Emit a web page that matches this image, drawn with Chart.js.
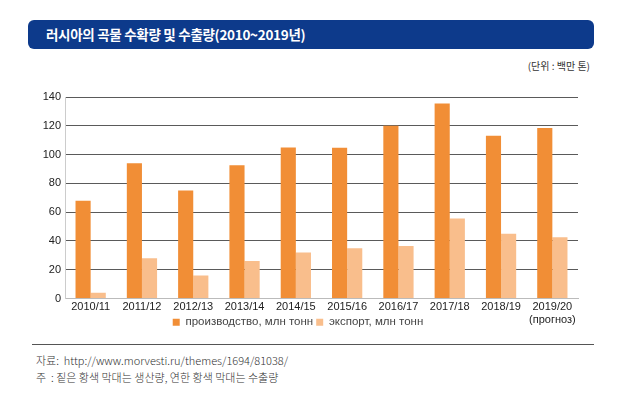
<!DOCTYPE html>
<html>
<head>
<meta charset="utf-8">
<script src="https://cdn.jsdelivr.net/npm/chart.js@4"></script>
<style>
  html, body { margin:0; padding:0; background:#fff; width:633px; height:405px; overflow:hidden; }
  #title { position:absolute; left:28px; top:20px; width:566px; height:29px; background:#0d3a8b; border-radius:6px;
           color:#fff; font-family:"Noto Sans CJK KR", sans-serif; font-weight:bold; font-size:13.5px; line-height:29px;
           box-sizing:border-box; padding-left:18px; letter-spacing:-0.3px; }
  #unit { position:absolute; right:43px; top:58px; font-family:"Noto Sans CJK KR", sans-serif; font-size:10px; color:#333; }
  #wrap { position:absolute; left:0; top:85px; width:596px; height:253px; }
  #rule { position:absolute; left:32px; top:344px; width:562px; height:1px; background:#555; }
  .note { position:absolute; left:36px; font-family:"Noto Sans CJK KR", sans-serif; font-size:11px; color:#333; font-weight:300; }
</style>
</head>
<body>
<div id="title">러시아의 곡물 수확량 및 수출량(2010~2019년)</div>
<div id="unit">(단위 : 백만 톤)</div>
<div id="wrap"><canvas id="c"></canvas></div>
<div id="rule"></div>
<div class="note" style="top:352px">자료:&nbsp; http://www.morvesti.ru/themes/1694/81038/</div>
<div class="note" style="top:369px">주&nbsp; : 짙은 황색 막대는 생산량, 연한 황색 막대는 수출량</div>
<script>
const categories = ["2010/11","2011/12","2012/13","2013/14","2014/15","2015/16","2016/17","2017/18","2018/19",["2019/20","(прогноз)"]];
const production = [68, 94, 75, 92.5, 105, 104.8, 120, 135.5, 113, 118.5];
const exportVals = [4, 28, 16, 26, 32, 35, 36.5, 55.5, 45, 42.5];
const seriesNames = ["производство, млн тонн", "экспорт, млн тонн"];
const yTicks = [0, 20, 40, 60, 80, 100, 120, 140];

// let the x tick labels overflow into the legend strip instead of being clipped
const unclipX = {
  id: 'unclipX',
  afterLayout(chart) { chart.scales.x.bottom = chart.height; }
};

Chart.defaults.font.family = '"Liberation Sans", Arial, sans-serif';
new Chart(document.getElementById('c'), {
  type: 'bar',
  data: {
    labels: categories,
    datasets: [
      { label: seriesNames[0], data: production, backgroundColor: '#f18e36', categoryPercentage: 0.59, barPercentage: 1.0 },
      { label: seriesNames[1], data: exportVals, backgroundColor: '#f9be8c', categoryPercentage: 0.59, barPercentage: 1.0 }
    ]
  },
  plugins: [unclipX],
  options: {
    responsive: true,
    maintainAspectRatio: false,
    animation: false,
    layout: { padding: { left: 18, right: 18, top: 12, bottom: 0 } },
    plugins: {
      tooltip: { enabled: false },
      legend: {
        position: 'bottom',
        labels: { boxWidth: 7, boxHeight: 7, padding: 3, color: '#444', font: { size: 11.5 } }
      }
    },
    scales: {
      x: {
        grid: { display: false, drawTicks: false },
        border: { color: '#bbb' },
        afterFit: (s) => { s.height = 15; },
        ticks: { color: '#222', font: { size: 11 }, padding: 2, maxRotation: 0, autoSkip: false }
      },
      y: {
        min: 0, max: 140,
        afterBuildTicks: (s) => { s.ticks = yTicks.map(v => ({ value: v })); },
        afterFit: (s) => { s.width = 47; },
        grid: { color: (ctx) => ctx.tick && ctx.tick.value === 0 ? '#bbb' : '#5a5a5a', drawTicks: false },
        border: { color: '#ccc' },
        ticks: { color: '#222', font: { size: 11 }, padding: 4 }
      }
    }
  }
});
</script>
</body>
</html>
